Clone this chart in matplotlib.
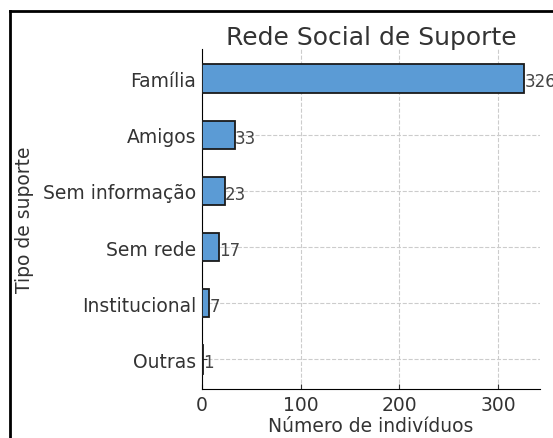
import matplotlib
matplotlib.use("Agg")
import matplotlib.pyplot as plt
from matplotlib.lines import Line2D

categorias = ["Família", "Amigos", "Sem informação", "Sem rede", "Institucional", "Outras"]
valores = [326, 33, 23, 17, 7, 1]

plt.rcParams.update({
    "font.family": "DejaVu Sans",
    "text.color": "#333333",
    "axes.labelcolor": "#333333",
    "xtick.color": "#333333",
    "ytick.color": "#333333",
})

fig = plt.figure(figsize=(5.53, 4.39), dpi=100)
ax = fig.add_axes([202 / 553, 1 - 390 / 439, 338 / 553, 340 / 439])

y = list(range(len(categorias)))
ax.barh(y, valores, height=0.5, color="#5b9bd5", edgecolor="#1a1a1a", linewidth=1.3, zorder=3)
ax.invert_yaxis()
ax.set_yticks(y)
ax.set_yticklabels(categorias)
ax.tick_params(axis="both", direction="in", labelsize=13.5, pad=4)
ax.set_xticks([0, 100, 200, 300])
ax.set_xlim(0, max(valores) * 1.05)

for yi, v in zip(y, valores):
    ax.text(v + 0.5, yi + 0.05, str(v), va="center", ha="left", fontsize=12, color="#444444",
            clip_on=False)

ax.grid(True, linestyle="--", color="#cccccc", linewidth=0.8, zorder=0)
ax.spines["top"].set_visible(False)
ax.spines["right"].set_visible(False)
ax.set_title("Rede Social de Suporte", fontsize=18, pad=3)
ax.set_xlabel("Número de indivíduos", fontsize=13.5, labelpad=2)
ax.set_ylabel("Tipo de suporte", fontsize=13.5)
ax.yaxis.set_label_coords(-0.497, 0.5)

# moldura da captura
fig.add_artist(Line2D([10 / 553, 10 / 553], [0, 1 - 12 / 439], transform=fig.transFigure,
                      color="black", linewidth=2))
fig.add_artist(Line2D([10 / 553, 1], [1 - 12 / 439, 1 - 12 / 439], transform=fig.transFigure,
                      color="black", linewidth=2))

fig.savefig("out.png", dpi=100)
